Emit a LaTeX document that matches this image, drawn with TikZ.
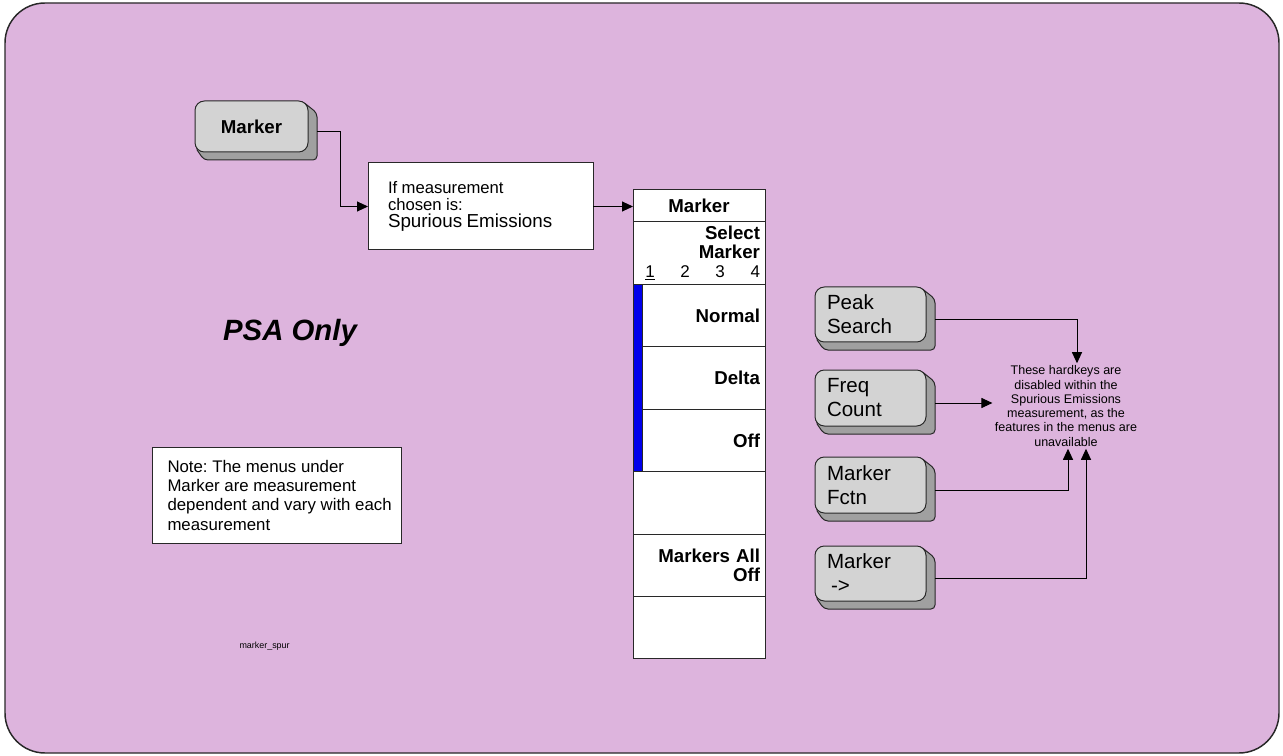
\documentclass[tikz,border=0pt]{standalone}
\usepackage{fontspec}
\setmainfont{Liberation Sans}
\usetikzlibrary{arrows.meta,calc}
\definecolor{bgpurple}{RGB}{221,180,221}
\definecolor{keyface}{RGB}{211,211,211}
\definecolor{keyshadow}{RGB}{160,160,160}
\definecolor{barblue}{RGB}{0,0,235}
\definecolor{edge}{RGB}{40,40,40}
\newcommand\fs[2]{\fontsize{#1}{#2}\selectfont}
\frenchspacing
% #1 name, #2 x, #3 y, #4 width px, #5 height px, #6 options, #7 text
\newcommand\hwkey[7]{%
  \filldraw[keyshade] ({#2+#4-6},#3) -- ({#2+#4+9},{#3+12}) -- ({#2+#4+9},{#3+#5+8})
     -- ({#2+9},{#3+#5+8}) -- (#2,{#3+#5-5}) -- cycle;
  \node[keyfacestyle, minimum width={#4*0.75pt}, minimum height={#5*0.75pt}, #6] (#1) at (#2,#3) {#7};
  \coordinate (#1-out) at ($(#1.east)+(9,5)$);
}
\begin{document}
\begin{tikzpicture}[x=0.75pt,y=-0.75pt,line width=0.75pt,
  arr/.style={draw=black,-{Triangle[length=8.25pt,width=7.5pt]}},
  keyfacestyle/.style={draw=edge,fill=keyface,rounded corners=7pt,inner sep=0pt,outer sep=0pt,anchor=north west},
  keyshade/.style={draw=edge,fill=keyshadow,rounded corners=3pt},
  whitebox/.style={draw=edge,fill=white,anchor=north west,inner sep=0pt,outer sep=0pt},
  menurow/.style={whitebox,minimum width=99pt,minimum height=46.8pt,align=right,text width=91.5pt,inner xsep=3.75pt,font=\bfseries\fs{14}{14.3}},
  rkey/.style={align=left,text width=65.25pt,inner xsep=9pt,font=\fs{15.4}{18}},
]
\useasboundingbox (0,0) rectangle (1283,756);
\filldraw[fill=bgpurple,draw=edge,line width=1.1pt,rounded corners=30pt] (5,3) rectangle (1279,753);

% Marker hardkey
\hwkey{mk}{195}{101}{113}{51}{font=\bfseries\fs{14}{16}}{Marker}

% condition box
\node[whitebox,minimum width=168.75pt,minimum height=65.25pt,text width=138.75pt,inner xsep=15pt,align=left] (cond) at (368,163)
  {\fs{12.5}{12.75}If measurement\\chosen is:\\\fs{14.1}{13.2}Spurious Emissions\par};
\draw[arr] (mk-out) -- ++(23,0) |- (cond.west);

% menu panel
\node[menurow,minimum height=24pt,align=center] (mhead) at (633,190) {Marker};
\node[menurow] (msel) at (mhead.south west) {Select\\Marker\\{\mdseries\fs{12.75}{14.3}\hbox to 91.5pt{\hspace{5.5pt}\underline{1}\hfil 2\hfil 3\hfil 4}}};
\node[menurow] (mnorm) at (msel.south west) {Normal};
\node[menurow] (mdelta) at (mnorm.south west) {Delta};
\node[menurow] (moff) at (mdelta.south west) {Off};
\node[menurow] (mblank) at (moff.south west) {};
\node[menurow] (mall) at (mblank.south west) {Markers All\\Off};
\node[menurow] (mlast) at (mall.south west) {};
\filldraw[fill=barblue,draw=edge,line width=0.5pt] (mnorm.north west) rectangle ($(moff.south west)+(9,0)$);
\draw[arr] (cond.east) -- (cond.east -| mhead.west);

% PSA only
\node[font=\bfseries\itshape\fs{22}{24},anchor=base,inner sep=0pt] (psa) at (290,340) {PSA Only};

% note box
\node[whitebox,minimum width=186.75pt,minimum height=72pt] (notebox) at (152,447) {};
\node[anchor=west,align=left,inner sep=0pt,font=\fs{12.6}{14.5}] (notetext) at ($(notebox.west)+(15,0)$)
  {Note: The menus under\\Marker are measurement\\dependent and vary with each\\measurement};

\node[font=\fs{6.7}{8},anchor=base west,inner sep=0pt] (tag) at (239,648) {marker\_spur};

% right hardkeys
\hwkey{pk}{815}{287}{111}{55}{rkey}{Peak\\Search}
\hwkey{fc}{815}{370}{111}{56}{rkey}{Freq\\Count}
\hwkey{mf}{815}{457}{111}{56}{rkey}{Marker\\Fctn}
\hwkey{ma}{815}{546}{111}{55}{rkey}{Marker\\\hspace*{3pt}->}

\node[align=center,inner sep=1.5pt,font=\fs{9.4}{10.7}] (dis) at (1066,406)
  {These hardkeys are\\disabled within the\\Spurious Emissions\\measurement, as the\\features in the menus are\\unavailable};

\draw[arr] (pk-out) -| ($(dis.north)+(11,0)$);
\draw[arr] (fc-out) -- (fc-out -| dis.west);
\draw[arr] (mf-out) -| ($(dis.south)+(2,0)$);
\draw[arr] (ma-out) -| ($(dis.south)+(20,0)$);
\end{tikzpicture}
\end{document}
